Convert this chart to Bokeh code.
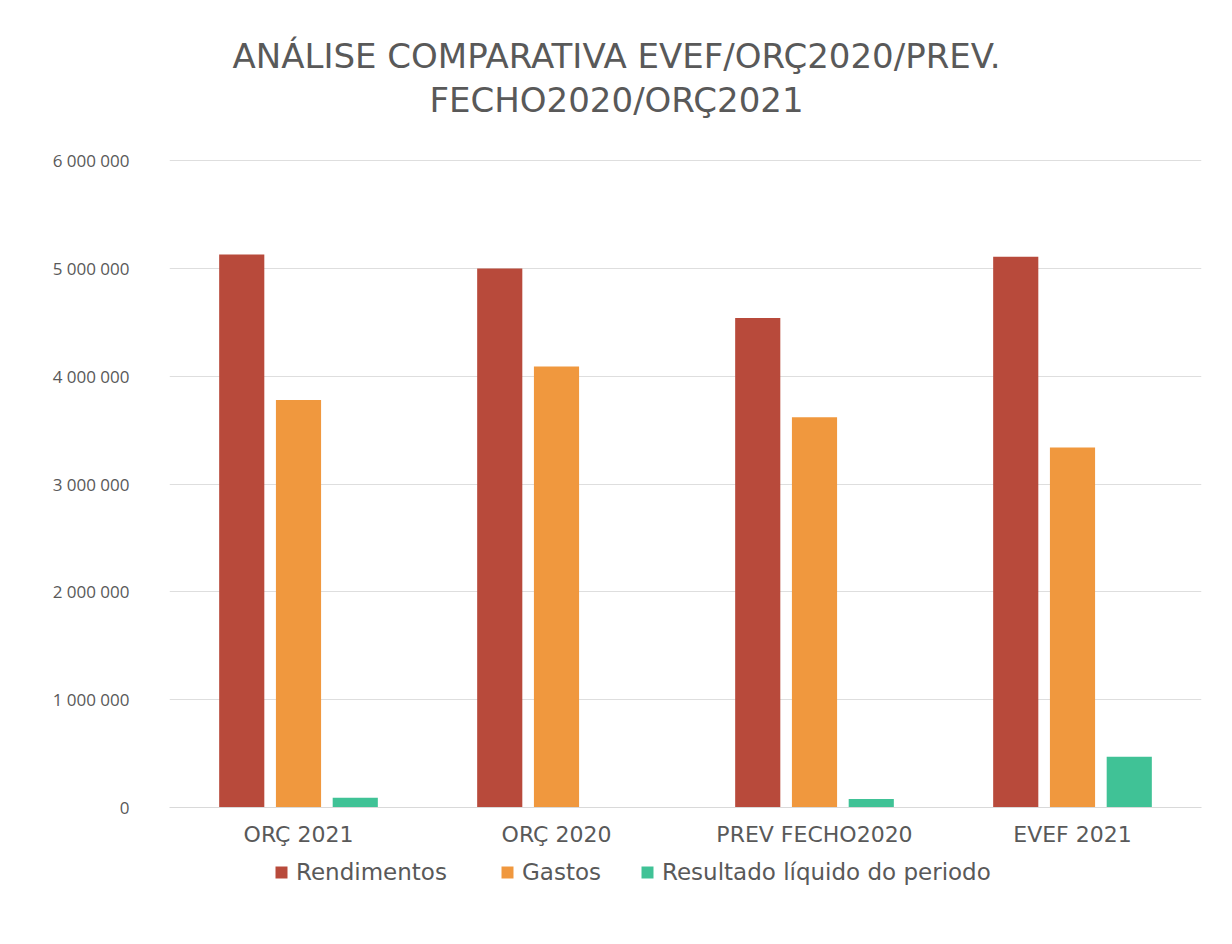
from bokeh.plotting import figure
from bokeh.layouts import column
from bokeh.models import FactorRange, Range1d, Title, Legend, LegendItem, FixedTicker, ColumnDataSource
from bokeh.transform import dodge
from bokeh.embed import file_html
from bokeh.resources import INLINE

categories = ["ORÇ 2021", "ORÇ 2020", "PREV FECHO2020", "EVEF 2021"]
rendimentos = [5130000, 5000000, 4540000, 5110000]
gastos = [3780000, 4090000, 3620000, 3340000]
resultado = [90000, 0, 80000, 470000]
series_names = ["Rendimentos", "Gastos", "Resultado líquido do periodo"]
series_colors = ["#B84A3B", "#F0983E", "#40C296"]
y_ticks = [0, 1000000, 2000000, 3000000, 4000000, 5000000, 6000000]
y_tick_labels = ["0", "1 000 000", "2 000 000", "3 000 000", "4 000 000", "5 000 000", "6 000 000"]
title_lines = ["ANÁLISE COMPARATIVA EVEF/ORÇ2020/PREV.", "FECHO2020/ORÇ2021"]

FONT = "Open Sans"
WFONT = "DejaVu Sans"
GRAY = "#595959"
FW, FH = 1032, 650

src = ColumnDataSource(dict(cat=categories, r=rendimentos, g=gastos, res=resultado))

p = figure(x_range=FactorRange(*categories), y_range=Range1d(0, 6030000),
           frame_width=FW, frame_height=FH, output_backend="svg", toolbar_location=None,
           min_border_left=169, min_border_right=15, min_border_top=157, min_border_bottom=40)
p.title = None

r1 = p.vbar(x=dodge("cat", -0.22, range=p.x_range), top="r", width=0.175, source=src,
            fill_color=series_colors[0], line_color=None)
r2 = p.vbar(x=dodge("cat", 0.0, range=p.x_range), top="g", width=0.175, source=src,
            fill_color=series_colors[1], line_color=None)
r3 = p.vbar(x=dodge("cat", 0.22, range=p.x_range), top="res", width=0.175, source=src,
            fill_color=series_colors[2], line_color=None)

spacer = Title(text=" ", text_font_size="10px", standoff=25)
t2 = Title(text=title_lines[1], align="left", offset=260, text_font=WFONT, text_font_size="34px",
           text_color=GRAY, text_font_style="normal", standoff=0)
t1 = Title(text=title_lines[0], align="left", offset=63, text_font=WFONT, text_font_size="34px",
           text_color=GRAY, text_font_style="normal", standoff=3)
p.add_layout(spacer, "above")
p.add_layout(t2, "above")
p.add_layout(t1, "above")

p.yaxis.ticker = FixedTicker(ticks=y_ticks)
p.yaxis.major_label_overrides = {t: l for t, l in zip(y_ticks, y_tick_labels)}
p.yaxis.major_label_text_font = FONT
p.yaxis.major_label_text_font_size = "17px"
p.yaxis.major_label_text_color = GRAY
p.yaxis.axis_line_color = None
p.yaxis.major_tick_line_color = None
p.yaxis.minor_tick_line_color = None
p.yaxis.major_label_standoff = 34

p.xaxis.major_label_text_font = WFONT
p.xaxis.major_label_text_font_size = "22px"
p.xaxis.major_label_text_color = GRAY
p.xaxis.axis_line_color = "#d9d9d9"
p.xaxis.major_tick_line_color = None
p.xaxis.minor_tick_line_color = None
p.xaxis.major_label_standoff = 8

p.xgrid.grid_line_color = None
p.ygrid.grid_line_color = "#dedede"
p.ygrid.ticker = FixedTicker(ticks=y_ticks)
p.outline_line_color = None
p.background_fill_color = "white"
p.border_fill_color = "white"

# legend row (its markers lie far outside the visible y range; only the legend shows)
p2 = figure(x_range=FactorRange(*categories), y_range=Range1d(-2, -1), frame_width=1216, frame_height=50,
            output_backend="svg", toolbar_location=None, x_axis_location=None, y_axis_location=None,
            min_border=0)
p2.outline_line_color = None
p2.grid.visible = False
p2.background_fill_color = "white"
p2.border_fill_color = "white"
leg_x = [266, 492, 632]
for name, col, key, lx in zip(series_names, series_colors, ["r", "g", "res"], leg_x):
    rr = p2.scatter(x="cat", y=key, marker="square", size=12, source=src,
                    fill_color=col, line_color=None)
    lg = Legend(items=[LegendItem(label=name, renderers=[rr])], location=(lx, 12),
                label_text_font=WFONT, label_text_font_size="23px", label_text_color=GRAY,
                glyph_width=30, glyph_height=30, label_standoff=0, label_height=26,
                border_line_color=None, background_fill_alpha=0, margin=0, padding=0)
    p2.add_layout(lg, "center")

layout = column(p, p2, spacing=0)
open("out.html", "w").write(file_html(layout, INLINE))
